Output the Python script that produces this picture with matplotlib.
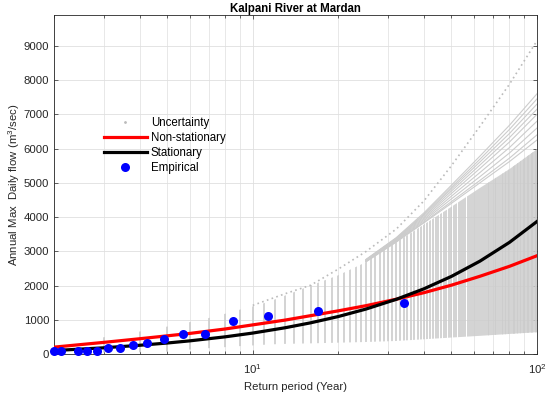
"""
Kalpani River at Mardan - return level plot (stationary vs non-stationary).
"""

import numpy as np
import matplotlib
matplotlib.use("Agg")
import matplotlib.pyplot as plt
from matplotlib.lines import Line2D
from matplotlib.ticker import LogLocator, NullFormatter, MultipleLocator

plt.rcParams["font.family"] = ["Liberation Sans", "DejaVu Sans"]
plt.rcParams["mathtext.fontset"] = "custom"
plt.rcParams["mathtext.rm"] = "Liberation Sans"
plt.rcParams["mathtext.it"] = "Liberation Sans:italic"
plt.rcParams["mathtext.bf"] = "Liberation Sans:bold"

# ── data ─────────────────────────────────────────────────────────────────────
# uncertainty band: bootstrap return levels, one bar per integer return period
bar_T = np.arange(2, 101)
band_T = [2, 3, 4, 5, 6, 7, 8, 9, 10, 11, 12, 13, 14, 16, 20, 25, 32, 40, 50, 63, 80, 100]
band_lo = [30, 45, 50, 70, 130, 170, 200, 230, 250, 270, 285, 295, 300, 310,
           330, 350, 380, 430, 480, 530, 585, 636]
band_hi = [330, 490, 656, 800, 930, 1050, 1176, 1294, 1390, 1488, 1597, 1706, 1810,
           2000, 2300, 2680, 3260, 3780, 4300, 4850, 5400, 5980]

# sparse bootstrap curves above the dense band
outer_T = [25, 32, 40, 50, 63, 80, 100]
outer_1 = [2760, 3400, 4120, 4930, 5780, 6680, 7600]
outer_2 = [2750, 3380, 4080, 4870, 5690, 6560, 7450]
outer_3 = [2745, 3365, 4050, 4820, 5610, 6440, 7300]
outer_4 = [2735, 3350, 4010, 4760, 5520, 6320, 7150]
outer_5 = [2725, 3330, 3970, 4690, 5420, 6190, 7000]
outer_6 = [2715, 3310, 3930, 4610, 5300, 6030, 6800]
outer_7 = [2705, 3295, 3890, 4530, 5180, 5870, 6600]
outer_8 = [2695, 3280, 3850, 4450, 5070, 5720, 6400]
outer_9 = [2690, 3270, 3830, 4400, 5000, 5620, 6250]

top_T = [10, 13, 16, 20, 25, 32, 40, 50, 63, 80, 100]
top_curve = [1420, 1760, 2010, 2480, 2990, 3650, 4470, 5500, 6650, 7880, 9150]

# fitted return level curves
curve_T = [2, 3, 4, 5, 6, 8, 10, 13, 16, 20, 25, 32, 40, 50, 63, 80, 100]
nonstat = [200, 340, 445, 530, 600, 730, 850, 990, 1120, 1260, 1410, 1600,
           1790, 2010, 2270, 2560, 2870]
stat = [100, 181, 254, 320, 383, 501, 611, 766, 911, 1094, 1311, 1597,
        1903, 2266, 2712, 3260, 3870]

# empirical (plotting position) points
emp_T = [34, 17, 11.33, 8.5, 6.8, 5.67, 4.86, 4.25, 3.78, 3.4, 3.09, 2.83,
         2.62, 2.43, 2.125, 2.0]
emp_Q = [1488, 1250, 1100, 950, 590, 590, 445, 323, 253, 185, 166, 97,
         97, 77, 77, 77]

# ── figure ───────────────────────────────────────────────────────────────────
C_GREY = "#CCCCCC"
C_AX = "#262626"

fig = plt.figure(figsize=(5.5, 3.96), dpi=100)
ax = fig.add_axes([0.0982, 0.1061, 0.8782, 0.856])
ax.set_xscale("log")
ax.set_xlim(2, 100)
ax.set_ylim(0, 9900)
ax.set_axisbelow(True)

# bars clipped to the band outline
band = ax.fill_between(band_T, band_lo, band_hi, facecolor="none",
                       edgecolor="none", lw=0)
bars = ax.vlines(bar_T, 0, 9900, colors=C_GREY, lw=1.2, zorder=2)
bars.set_clip_path(band.get_paths()[0], ax.transData)

for oc in (outer_1, outer_2, outer_3, outer_4, outer_5,
           outer_6, outer_7, outer_8, outer_9):
    ax.plot(outer_T, oc, color=C_GREY, lw=0.8, zorder=2)
ax.plot(top_T, top_curve, color="#BBBBBB", lw=1.2, ls=(0, (1, 2)), zorder=2)

ax.plot(curve_T, nonstat, color="#FF0000", lw=2.3, zorder=3)
ax.plot(curve_T, stat, color="#000000", lw=2.3, zorder=3)
ax.plot(emp_T, emp_Q, "o", color="#0000FF", ms=6.5, mec="none", zorder=4,
        clip_on=False)

# ── axes styling ─────────────────────────────────────────────────────────────
ax.yaxis.set_major_locator(MultipleLocator(1000))
ax.xaxis.set_major_locator(LogLocator(base=10))
ax.xaxis.set_minor_locator(LogLocator(base=10, subs=np.arange(2, 10)))
ax.xaxis.set_minor_formatter(NullFormatter())
ax.grid(True, which="major", color="#DFDFDF", lw=0.6)
ax.grid(True, which="minor", axis="x", color="#E4E4E4", lw=0.6)
ax.tick_params(which="both", direction="in", top=True, right=True,
               colors=C_AX, labelsize=8.2, width=0.5)
ax.tick_params(which="major", length=3)
ax.tick_params(which="minor", length=2)
ax.tick_params(axis="x", which="major", pad=6)
for sp in ax.spines.values():
    sp.set_color(C_AX)
    sp.set_linewidth(0.6)

ax.set_title("Kalpani River at Mardan", fontsize=8.3, fontweight="bold",
             pad=2, color="#000000")
ax.set_xlabel("Return period (Year)", fontsize=8.2, color=C_AX, labelpad=4)
ax.set_ylabel("Annual Max  Daily flow (m$^{3}$/sec)", fontsize=8.2,
              color=C_AX, labelpad=1)

handles = [
    Line2D([], [], ls="none", marker=".", ms=2, color="#BBBBBB"),
    Line2D([], [], color="#FF0000", lw=2.3),
    Line2D([], [], color="#000000", lw=2.3),
    Line2D([], [], ls="none", marker="o", ms=6.5, color="#0000FF", mec="none"),
]
labels = ["Uncertainty", "Non-stationary", "Stationary", "Empirical"]
ax.legend(handles, labels, loc="upper left", bbox_to_anchor=(0.1035, 0.698),
          frameon=False, fontsize=8.3, handlelength=3.7, handletextpad=0.35,
          labelspacing=0.26, borderpad=0, borderaxespad=0)

fig.savefig("out.png", dpi=100)
